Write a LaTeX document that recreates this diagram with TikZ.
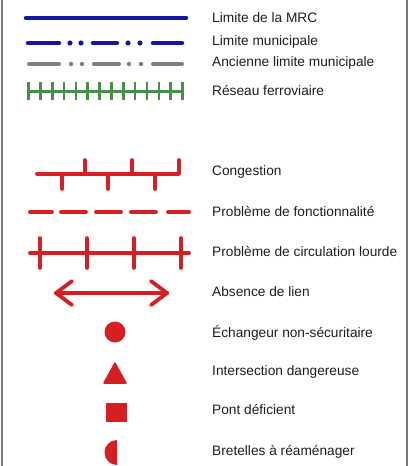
\documentclass[tikz,border=0pt]{standalone}
\usepackage{fontspec}
\setmainfont{Liberation Sans}
\definecolor{mrcblue}{RGB}{20,20,165}
\definecolor{limgrey}{RGB}{128,128,128}
\definecolor{railgreen}{RGB}{70,145,70}
\definecolor{probred}{RGB}{215,30,35}
\definecolor{frame}{RGB}{120,120,120}
\definecolor{txt}{RGB}{30,30,30}
\begin{document}
\begin{tikzpicture}[x=1pt,y=-1pt,
  lab/.style={anchor=west,inner sep=0pt,text=txt,font=\fontsize{13.7}{15}\selectfont},
  blueline/.style={draw=mrcblue,line width=4.5pt,line cap=round},
  greyline/.style={draw=limgrey,line width=4pt,line cap=round},
  redline/.style={draw=probred,line width=3.8pt,line cap=round,line join=round},
  redtick/.style={draw=probred,line width=3.6pt,line cap=round}]
\useasboundingbox (0,0) rectangle (419,466);
\fill[white] (0,0) rectangle (419,466);
% frame lines
\draw[frame,line width=2pt] (1.5,0) -- (1.5,466);
\draw[frame,line width=2pt] (407,0) -- (407,466);

% Limite de la MRC
\draw[blueline] (26,18) -- (186,18);
\node[lab] (l1) at (212,18) {Limite de la MRC};

% Limite municipale
\draw[blueline] (28,43) -- (59,43);
\fill[mrcblue] (70,43) circle (2.6);
\fill[mrcblue] (81,43) circle (2.6);
\draw[blueline] (93,43) -- (117,43);
\fill[mrcblue] (128,43) circle (2.6);
\fill[mrcblue] (140,43) circle (2.6);
\draw[blueline] (153,43) -- (182,43);
\node[lab] (l2) at (212,42) {Limite municipale};

% Ancienne limite municipale
\draw[greyline] (29,64) -- (59,64);
\fill[limgrey] (71,64) circle (2.2);
\fill[limgrey] (82,64) circle (2.2);
\draw[greyline] (94,64) -- (119,64);
\fill[limgrey] (129,64) circle (2.2);
\fill[limgrey] (141,64) circle (2.2);
\draw[greyline] (153,64) -- (182,64);
\node[lab] (l3) at (212,63) {Ancienne limite municipale};

% Reseau ferroviaire
\draw[railgreen,line width=3pt] (28.5,91) -- (182.5,91);
\foreach \k in {0,...,13} {
  \draw[railgreen,line width=2.6pt] ({28.5+\k*11.85},82) -- ({28.5+\k*11.85},100);
}
\node[lab] (l4) at (212,91) {Réseau ferroviaire};

% Congestion
\draw[redline] (37,174) -- (179,174) -- (179,160);
\foreach \x in {85,132} {\draw[redtick] (\x,174) -- (\x,160);}
\foreach \x in {62,108,155} {\draw[redtick] (\x,174) -- (\x,189);}
\node[lab] (l5) at (212,172) {Congestion};

% Probleme de fonctionnalite
\foreach \a/\b in {30/52,61/86,96/121,131/156,168/189} {
  \draw[redline] (\a,212) -- (\b,212);
}
\node[lab] (l6) at (212,212) {Problème de fonctionnalité};

% Probleme de circulation lourde
\draw[redline] (30,253) -- (189,253);
\foreach \x in {40,87,134,181} {\draw[redtick] (\x,238) -- (\x,268);}
\node[lab] (l7) at (212,252) {Problème de circulation lourde};

% Absence de lien
\draw[redline] (56,293) -- (167,293);
\draw[redline] (72,281) -- (56,293) -- (72,305);
\draw[redline] (151,281) -- (167,293) -- (151,305);
\node[lab] (l8) at (212,292) {Absence de lien};

% Echangeur non-securitaire
\fill[probred] (115,332) circle (10.5);
\node[lab] (l9) at (212,333) {Échangeur non-sécuritaire};

% Intersection dangereuse
\fill[probred,draw=probred,line width=1.5pt,line join=round] (104,383) -- (115,363) -- (126,383) -- cycle;
\node[lab] (l10) at (212,372) {Intersection dangereuse};

% Pont deficient
\fill[probred] (106,403) rectangle (127,422);
\node[lab] (l11) at (212,410) {Pont déficient};

% Bretelles a reamenager
\fill[probred] (117,440) arc[start angle=-90,end angle=-270,radius=12.5] -- cycle;
\node[lab] (l12) at (212,452) {Bretelles à réaménager};
\end{tikzpicture}
\end{document}
